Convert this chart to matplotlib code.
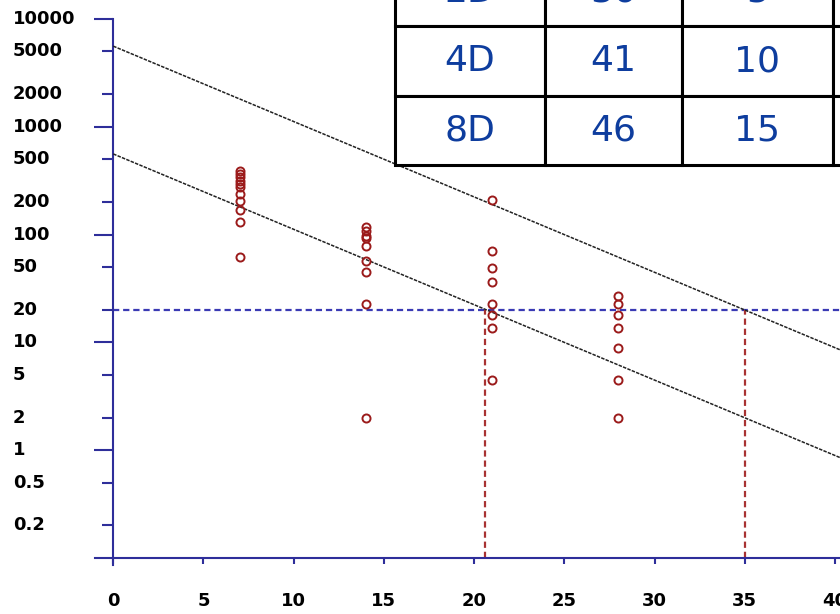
import numpy as np
import matplotlib.pyplot as plt
from matplotlib import transforms

plt.rcParams['lines.scale_dashes'] = False

#### titres per day ####
day7 = [392, 365, 340, 316, 294, 274, 238, 206, 169, 130, 62]
day14 = [118, 109, 98, 92, 79, 57, 45, 22.5, 2]
day21 = [209, 71, 49, 36, 22.5, 17.8, 13.7, 4.45]
day28 = [27, 22.5, 17.8, 13.7, 8.9, 4.45, 2]
days = [7, 14, 21, 28]
titres = [day7, day14, day21, day28]

# fitted decay lines (value at day 0 and day 41)
fit_x = [0, 41]
upper_fit = [5600, 7.6]
lower_fit = [560, 0.76]

threshold = 20
cut_days = [20.6, 35]

yticks_major = [10000, 1000, 100, 10, 1]
yticks_minor = [5000, 2000, 500, 200, 50, 20, 5, 2, 0.5, 0.2]
ytick_vals = [10000, 5000, 2000, 1000, 500, 200, 100, 50, 20, 10, 5, 2, 1, 0.5, 0.2]
ytick_text = ['10000', '5000', '2000', '1000', '500', '200', '100', '50', '20',
              '10', '5', '2', '1', '0.5', '0.2']
xticks = [0, 5, 10, 15, 20, 25, 30, 35, 40]

table_rows = [['2D', '36', '5', ''],
              ['4D', '41', '10', ''],
              ['8D', '46', '15', '']]

axis_col = '#2E2E9A'
red = '#9B1B1B'

fig = plt.figure(figsize=(8.4, 6.14), dpi=100)
ax = fig.add_axes([95/840, 49/614, 745/840, 546/614])
ax.set_yscale('log')
ax.set_xlim(-1.01, 40.28)
ax.set_ylim(0.086, 10000)

for d, vals in zip(days, titres):
    ax.plot(np.full(len(vals), d), vals, 'o', ls='none', mfc='none', mec=red,
            ms=5.8, mew=1.4, zorder=4)

ax.plot(fit_x, upper_fit, color='#222222', lw=1.1, ls=(0, (2.5, 0.9)), zorder=3)
ax.plot(fit_x, lower_fit, color='#222222', lw=1.1, ls=(0, (2.5, 0.9)), zorder=3)

ax.plot([0, 41], [threshold, threshold], color='#3A3AB4', lw=1.6,
        ls=(0, (4.5, 2.8)), zorder=2)
for c in cut_days:
    ax.plot([c, c], [0.1, threshold], color='#A83232', lw=1.6,
            ls=(0, (4.5, 2.8)), zorder=2)

# axes crossing at (0, 0.1)
for s in ['top', 'right']:
    ax.spines[s].set_visible(False)
ax.spines['left'].set_position(('data', 0))
ax.spines['bottom'].set_position(('data', 0.1))
for s in ['left', 'bottom']:
    ax.spines[s].set_color(axis_col)
    ax.spines[s].set_linewidth(1.5)

ax.set_yticks(yticks_major)
ax.set_yticks(yticks_minor, minor=True)
ax.set_yticklabels([])
ax.set_yticklabels([], minor=True)
ax.tick_params(axis='y', which='major', length=13.7, width=1.5, color=axis_col)
ax.tick_params(axis='y', which='minor', length=7.9, width=1.5, color=axis_col)

ax.set_xticks(xticks)
ax.set_xticklabels([str(v) for v in xticks], fontsize=13, fontweight='bold')
ax.tick_params(axis='x', length=4.3, width=1.5, color=axis_col, pad=20)

trans = transforms.blended_transform_factory(fig.transFigure, ax.transData)
for v, t in zip(ytick_vals, ytick_text):
    ax.text(13/840, v, t, transform=trans, ha='left', va='center',
            fontsize=13, fontweight='bold')

#### table ####
tax = fig.add_axes([0, 0, 1, 1])
tax.axis('off')
tax.set_xlim(0, 1)
tax.set_ylim(0, 1)
tb = tax.table(cellText=table_rows, cellLoc='center',
               colWidths=[150, 137, 151, 150],
               bbox=[395/840, (614 - 165)/614, 588/840, 208/614])
tb.auto_set_font_size(False)
for (r, c), cell in tb.get_celld().items():
    cell.set_linewidth(2.2)
    cell.set_edgecolor('black')
    cell.get_text().set_fontsize(26)
    cell.get_text().set_color('#0E3D9E')
    cell.set_clip_on(False)
    cell.get_text().set_clip_on(False)
tb.set_clip_on(False)

fig.savefig('out.png', dpi=100)
